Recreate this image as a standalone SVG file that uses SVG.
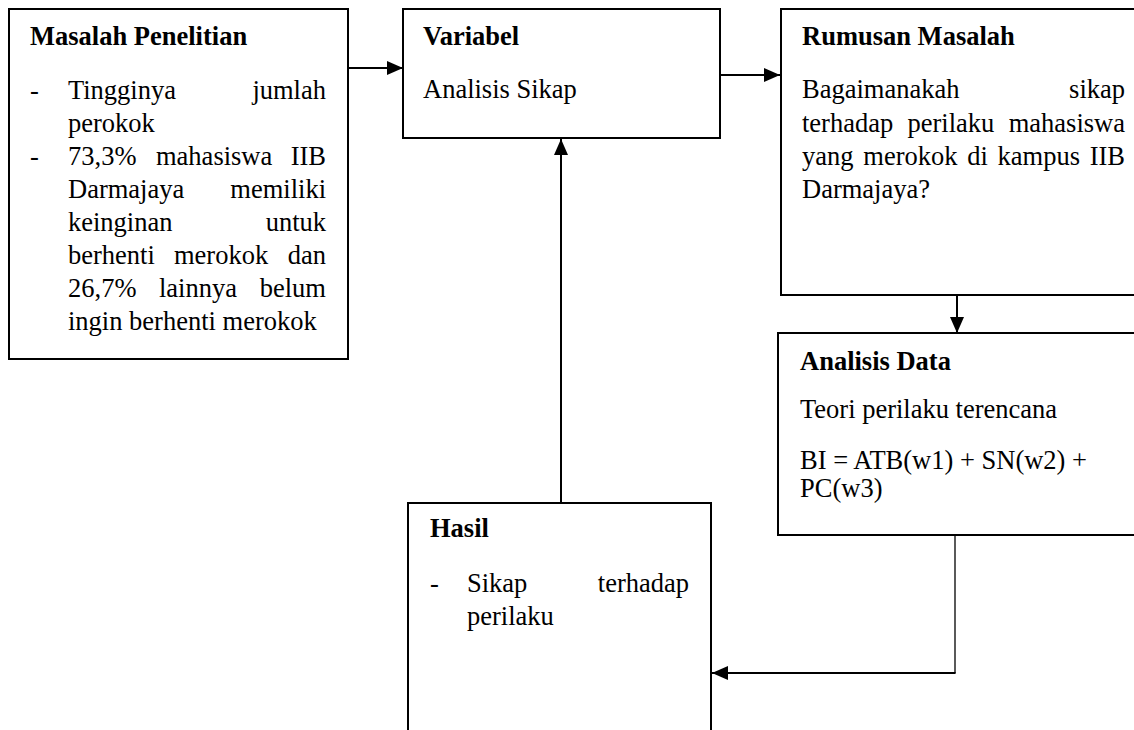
<svg xmlns="http://www.w3.org/2000/svg" width="1134" height="730" viewBox="0 0 1134 730">
<style>
  .box { fill: #fff; stroke: #000; stroke-width: 2; }
  .t { font-family: "Liberation Serif", "Times New Roman", serif; font-size: 26.5px; fill: #000; }
  .b { font-weight: bold; }
  .e { text-anchor: end; }
  .c { fill: none; stroke: #000; stroke-width: 2; }
</style>
<defs>
  <marker id="ah" markerUnits="userSpaceOnUse" markerWidth="17" markerHeight="15" refX="16" refY="7.5" orient="auto">
    <path d="M0,0.5 L16,7.5 L0,14.5 z" fill="#000"/>
  </marker>
</defs>
<rect width="1134" height="730" fill="#fff"/>

<g id="masalah-penelitian">
  <rect class="box" x="9" y="9" width="339" height="350"/>
  <text class="t b" x="30" y="45">Masalah Penelitian</text>
  <text class="t" x="30" y="99">-</text>
  <text class="t" x="68" y="99">Tingginya</text>
  <text class="t e" x="326" y="99">jumlah</text>
  <text class="t" x="68" y="132">perokok</text>
  <text class="t" x="30" y="165">-</text>
  <text class="t" x="68" y="165">73,3%</text>
  <text class="t" x="156" y="165">mahasiswa</text>
  <text class="t e" x="326" y="165">IIB</text>
  <text class="t" x="68" y="198">Darmajaya</text>
  <text class="t e" x="326" y="198">memiliki</text>
  <text class="t" x="68" y="231">keinginan</text>
  <text class="t e" x="326" y="231">untuk</text>
  <text class="t" x="68" y="264">berhenti</text>
  <text class="t" x="174" y="264">merokok</text>
  <text class="t e" x="326" y="264">dan</text>
  <text class="t" x="68" y="297">26,7%</text>
  <text class="t" x="159" y="297">lainnya</text>
  <text class="t e" x="326" y="297">belum</text>
  <text class="t" x="68" y="330">ingin berhenti merokok</text>
</g>

<g id="variabel">
  <rect class="box" x="403" y="9" width="317" height="129"/>
  <text class="t b" x="423" y="45">Variabel</text>
  <text class="t" x="423" y="98">Analisis Sikap</text>
</g>

<g id="rumusan-masalah">
  <rect class="box" x="781" y="9" width="380" height="286"/>
  <text class="t b" x="802" y="45">Rumusan Masalah</text>
  <text class="t" x="802" y="98">Bagaimanakah</text>
  <text class="t e" x="1125" y="98">sikap</text>
  <text class="t" x="802" y="132">terhadap</text>
  <text class="t" x="907.5" y="132">perilaku</text>
  <text class="t e" x="1125" y="132">mahasiswa</text>
  <text class="t" x="802" y="165">yang</text>
  <text class="t" x="863.3" y="165">merokok</text>
  <text class="t" x="967.2" y="165">di</text>
  <text class="t" x="997.6" y="165">kampus</text>
  <text class="t e" x="1125" y="165">IIB</text>
  <text class="t" x="802" y="198">Darmajaya?</text>
</g>

<g id="analisis-data">
  <rect class="box" x="778" y="333" width="383" height="202"/>
  <text class="t b" x="800" y="370">Analisis Data</text>
  <text class="t" x="800" y="418">Teori perilaku terencana</text>
  <text class="t" x="800" y="469">BI = ATB(w1) + SN(w2) +</text>
  <text class="t" x="800" y="497">PC(w3)</text>
</g>

<g id="hasil">
  <rect class="box" x="408" y="503" width="303" height="240"/>
  <text class="t b" x="430" y="537">Hasil</text>
  <text class="t" x="430" y="592">-</text>
  <text class="t" x="467" y="592">Sikap</text>
  <text class="t e" x="689" y="592">terhadap</text>
  <text class="t" x="467" y="625">perilaku</text>
</g>

<g id="connectors">
  <path class="c" d="M348,68 H403" marker-end="url(#ah)"/>
  <path class="c" d="M720,75 H780" marker-end="url(#ah)"/>
  <path class="c" d="M957,295 V333" marker-end="url(#ah)"/>
  <path class="c" d="M561,503 V139" marker-end="url(#ah)"/>
  <path class="c" d="M955,535 V673" style="stroke-width:1.3"/>
  <path class="c" d="M955.6,673 H712" marker-end="url(#ah)"/>
</g>
</svg>
